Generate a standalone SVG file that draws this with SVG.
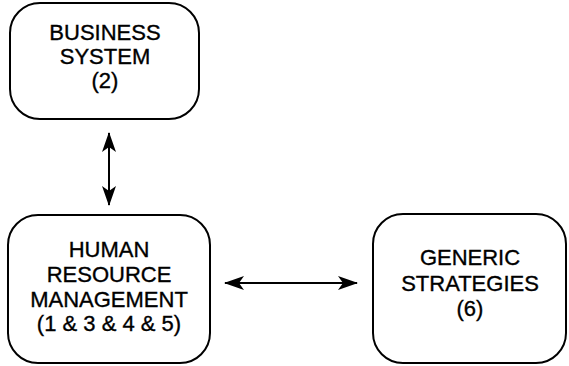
<svg xmlns="http://www.w3.org/2000/svg" width="569" height="366" viewBox="0 0 569 366">
<style>
.box{fill:#fff;stroke:#000;stroke-width:2}
.t{font-family:"Liberation Sans",Arial,sans-serif;font-size:22px;text-anchor:middle;fill:#000;stroke:#000;stroke-width:0.35}
.c{stroke:#000;stroke-width:2;fill:none}
</style>
<defs>
<marker id="ah" viewBox="0 0 20 14" refX="19" refY="7" markerWidth="20" markerHeight="14" markerUnits="userSpaceOnUse" orient="auto-start-reverse">
<path d="M0,0 L20,7 L0,14 L5,7 Z" fill="#000"/>
</marker>
</defs>
<rect width="569" height="366" fill="#fff"/>
<g id="business">
<rect class="box" x="10" y="3" width="189" height="116" rx="30"/>
<text class="t" x="105" y="40">BUSINESS</text>
<text class="t" x="105" y="64">SYSTEM</text>
<text class="t" x="105" y="88">(2)</text>
</g>
<g id="hrm">
<rect class="box" x="8" y="215" width="202" height="148" rx="30"/>
<text class="t" x="109" y="257">HUMAN</text>
<text class="t" x="109" y="282">RESOURCE</text>
<text class="t" x="109" y="307">MANAGEMENT</text>
<text class="t" x="109" y="331">(1 &amp; 3 &amp; 4 &amp; 5)</text>
</g>
<g id="generic">
<rect class="box" x="373" y="214" width="193" height="149" rx="30"/>
<text class="t" x="470" y="265">GENERIC</text>
<text class="t" x="470" y="291">STRATEGIES</text>
<text class="t" x="470" y="316">(6)</text>
</g>
<g id="connectors">
<line class="c" x1="109" y1="133" x2="109" y2="205" marker-start="url(#ah)" marker-end="url(#ah)"/>
<line class="c" x1="225" y1="283" x2="357" y2="283" marker-start="url(#ah)" marker-end="url(#ah)"/>
</g>
</svg>
